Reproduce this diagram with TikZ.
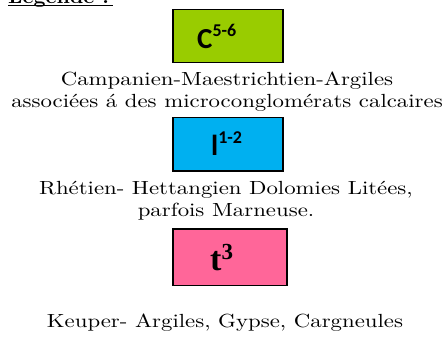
\documentclass[tikz,border=0pt]{standalone}
\usepackage{fontspec}
\newfontfamily\boxsans{Carlito}
\newfontfamily\boxserif{Liberation Serif}
\newfontfamily\descfont{lmroman10-regular.otf}[BoldFont=lmroman10-bold.otf,FakeStretch=1.2]
\newfontfamily\titlefont{lmroman10-bold.otf}[FakeStretch=1.1]
\definecolor{cgreen}{HTML}{99CC00}
\definecolor{lblue}{HTML}{00B0F0}
\definecolor{tpink}{HTML}{FF6699}
\newcommand{\suplab}[2]{\raisebox{#1}{\fontsize{18}{18}\selectfont #2}}
\begin{document}
\begin{tikzpicture}[x=1pt,y=-1pt,
  legbox/.style={draw=black,line width=1.3pt},
  sanslab/.style={anchor=base west,inner sep=0pt,font=\boxsans\bfseries\fontsize{29}{29}\selectfont},
  seriflab/.style={anchor=base west,inner sep=0pt},
  desc/.style={font=\descfont\fontsize{19}{22}\selectfont,align=center,inner sep=0pt}]
\useasboundingbox (0,0) rectangle (444,341);
% title
\node[anchor=base west,inner sep=0pt,font=\titlefont\fontsize{19}{22}\selectfont] (title) at (8,3.5) {Légende :};
\draw[line width=1.6pt] (title.base west) ++(0,2) coordinate (ul) -- ++(105,0);
% boxes
\draw[legbox,fill=cgreen] (173,9.5) rectangle (283,62.5);
\node[sanslab] (c) at (197,48) {C\suplab{12pt}{5-6}};
\node[desc] (d1) at (227,92) {Campanien-Maestrichtien-Argiles\\associées á des microconglomérats calcaires};
\draw[legbox,fill=lblue] (173,117.5) rectangle (283,171);
\node[sanslab] (l) at (211,155) {l\suplab{12pt}{1-2}};
\node[desc] (d2) at (226,201) {Rhétien- Hettangien Dolomies Litées,\\parfois Marneuse.};
\draw[legbox,fill=tpink] (173,229) rectangle (287,285.5);
\node[seriflab] (t) at (210,270) {\boxserif\bfseries\fontsize{34}{34}\selectfont t\raisebox{11pt}{\fontsize{23}{23}\selectfont 3}};
\node[desc] (d3) at (225,323) {Keuper- Argiles, Gypse, Cargneules};
\end{tikzpicture}
\end{document}
